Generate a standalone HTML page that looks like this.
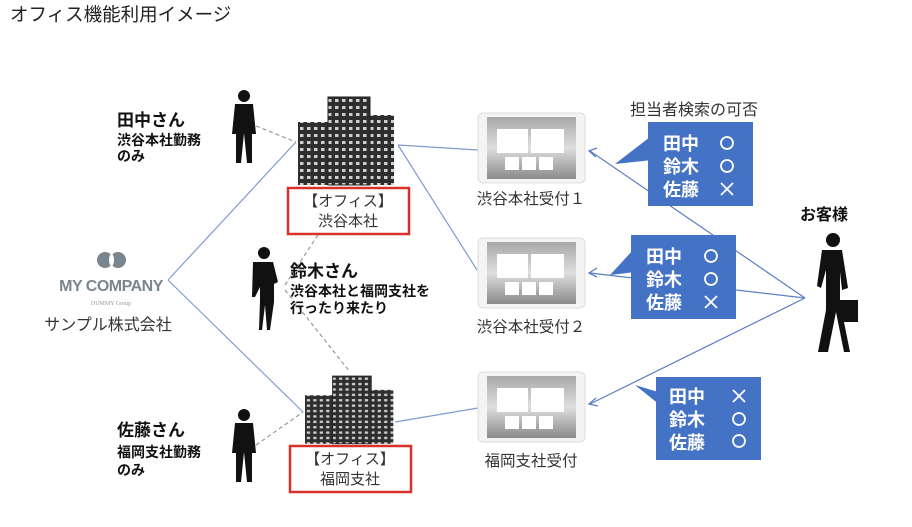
<!DOCTYPE html>
<html><head><meta charset="utf-8"><style>
body{margin:0;background:#fff;width:912px;height:527px;overflow:hidden;font-family:"Liberation Sans","Noto Sans CJK JP",sans-serif}
svg{position:absolute;left:0;top:0}
</style></head><body>
<svg width="912" height="527" viewBox="0 0 912 527" xmlns="http://www.w3.org/2000/svg" font-family="Liberation Sans, Noto Sans CJK JP, sans-serif">
<defs>
<pattern id="win" width="7" height="7" patternUnits="userSpaceOnUse"><rect width="7" height="7" fill="#2e2e2e"/><rect x="2" y="2" width="3.5" height="3" fill="#cfcfcf"/></pattern>
<linearGradient id="scr" x1="0" y1="0" x2="0" y2="1"><stop offset="0" stop-color="#a8a8a8"/><stop offset="0.5" stop-color="#dedede"/><stop offset="1" stop-color="#8a8a8a"/></linearGradient>
<g id="bld">
<rect x="30" y="0" width="42" height="88" fill="url(#win)"/>
<rect x="0" y="25" width="46" height="63" fill="url(#win)"/>
<rect x="70" y="18" width="26" height="70" fill="url(#win)"/>
<rect x="30" y="0" width="42" height="88" fill="none" stroke="#222"/>
</g>
<g id="tab">
<rect x="0" y="0" width="107" height="70" rx="5" fill="#f4f4f4" stroke="#ddd"/>
<rect x="9" y="4" width="89" height="62" fill="url(#scr)"/>
<rect x="19" y="16" width="31" height="24" fill="#fff"/><rect x="53" y="16" width="33" height="24" fill="#fff"/>
<rect x="27" y="44" width="14" height="13" fill="#fff"/><rect x="44" y="44" width="14" height="13" fill="#fff"/><rect x="61" y="44" width="14" height="13" fill="#fff"/>
</g>
<g id="man"><circle cx="12" cy="8" r="6" fill="#111"/><path d="M3,16 h18 l3,30 h-4 v29 h-5 l-3,-30 l-3,30 h-5 v-29 h-4 z" fill="#111"/></g>
</defs>

<text x="10" y="21" font-size="18.5" fill="#222">オフィス機能利用イメージ</text>

<g stroke="#7f9bd0" stroke-width="1.2" fill="none">
<path d="M168,280 L296,142"/><path d="M168,280 L303,412"/>
<path d="M398,145 L478,150"/><path d="M398,145 L477,270"/><path d="M395,422 L478,408"/>
</g>
<g stroke="#999" stroke-width="1.2" fill="none" stroke-dasharray="4,3">
<path d="M256,126 L296,142"/><path d="M318,235 L285,285"/><path d="M285,290 L350,372"/><path d="M256,445 L303,412"/>
</g>
<g stroke="#5b7fc4" stroke-width="1.2" fill="none">
<path d="M805,298 L590,151"/><path d="M805,298 L590,273"/><path d="M805,298 L590,404"/>
</g>
<g fill="none" stroke="#5b7fc4" stroke-width="1.3">
<path d="M597,148 L589,151 L596,157"/><path d="M597,268 L589,273 L597,277"/><path d="M596,398 L589,404 L598,406"/>
</g>

<use href="#bld" x="298" y="97"/>
<use href="#bld" transform="translate(305,376) scale(0.92,0.77)"/>
<rect x="288" y="188" width="121" height="46" fill="none" stroke="#d9302c" stroke-width="2.5"/>
<text x="348" y="206" font-size="15" text-anchor="middle" fill="#333">【オフィス】</text>
<text x="348" y="226" font-size="15" text-anchor="middle" fill="#333">渋谷本社</text>
<rect x="290" y="446" width="121" height="46" fill="none" stroke="#d9302c" stroke-width="2.5"/>
<text x="350" y="464" font-size="15" text-anchor="middle" fill="#333">【オフィス】</text>
<text x="350" y="484" font-size="15" text-anchor="middle" fill="#333">福岡支社</text>

<use href="#man" x="232" y="88"/>
<use href="#man" x="232" y="407"/>
<g fill="#111"><circle cx="264" cy="253" r="6"/><path d="M253,262 h20 l5,20 l-4,2 v18 l-4,28 h-3 l-2,-25 l-3,25 h-3 l1,-30 v-13 l-5,10 h-3 z"/></g>
<g font-weight="bold" fill="#111">
<text x="117" y="126" font-size="17">田中さん</text><text x="117" y="145" font-size="14">渋谷本社勤務</text><text x="117" y="161" font-size="14">のみ</text>
<text x="290" y="277" font-size="17">鈴木さん</text><text x="290" y="296" font-size="14">渋谷本社と福岡支社を</text><text x="290" y="313" font-size="14">行ったり来たり</text>
<text x="117" y="436" font-size="17">佐藤さん</text><text x="117" y="457" font-size="14">福岡支社勤務</text><text x="117" y="475" font-size="14">のみ</text>
<text x="800" y="220" font-size="16">お客様</text>
</g>

<circle cx="105" cy="260" r="8" fill="#7a8590"/><circle cx="118" cy="260" r="8" fill="#7a8590"/><ellipse cx="111.5" cy="260" rx="2.5" ry="6" fill="#fff"/>
<text x="111" y="291" font-size="16" font-weight="bold" text-anchor="middle" fill="#7a8590" letter-spacing="-0.5">MY COMPANY</text>
<text x="111" y="305" font-size="6" text-anchor="middle" fill="#999" font-family="Liberation Serif, serif">DUMMY Group</text>
<text x="108" y="330" font-size="16" text-anchor="middle" fill="#333">サンプル株式会社</text>

<use href="#tab" x="478" y="113"/><use href="#tab" x="478" y="238"/><use href="#tab" x="478" y="372"/>
<text x="531" y="204" font-size="15.5" text-anchor="middle" fill="#333">渋谷本社受付１</text>
<text x="531" y="332" font-size="15.5" text-anchor="middle" fill="#333">渋谷本社受付２</text>
<text x="531" y="466" font-size="15.5" text-anchor="middle" fill="#333">福岡支社受付</text>

<text x="630" y="115" font-size="16" fill="#333">担当者検索の可否</text>

<g fill="#4472c4">
<rect x="648" y="122" width="105" height="84"/><path d="M650,137 L615,164 L652,160 z"/>
<rect x="631" y="235" width="105" height="84"/><path d="M633,250 L610,275 L635,272 z"/>
<rect x="656" y="377" width="105" height="83"/><path d="M658,392 L635,385 L660,405 z"/>
</g>
<g fill="#fff" font-weight="bold" font-size="18">
<text x="663" y="150">田中</text><text x="663" y="173">鈴木</text><text x="663" y="196">佐藤</text>
<text x="646" y="263">田中</text><text x="646" y="286">鈴木</text><text x="646" y="309">佐藤</text>
<text x="669" y="403">田中</text><text x="669" y="426">鈴木</text><text x="669" y="449">佐藤</text>
</g>
<g fill="none" stroke="#fff" stroke-width="1.8">
<circle cx="727" cy="143" r="6"/><circle cx="727" cy="166" r="6"/><path d="M721,183 l12,12 M733,183 l-12,12"/>
<circle cx="711" cy="256" r="6"/><circle cx="711" cy="279" r="6"/><path d="M705,296 l12,12 M717,296 l-12,12"/>
<path d="M733,390 l12,12 M745,390 l-12,12"/><circle cx="739" cy="419" r="6"/><circle cx="739" cy="441" r="6"/>
</g>

<g fill="#111">
<circle cx="833" cy="240" r="7"/>
<path d="M822,250 h20 l6,38 l-6,2 l-2,-18 v30 l10,50 h-6 l-8,-40 l-8,40 h-10 l8,-42 v-40 l-5,18 l-4,-2 z"/>
<rect x="840" y="300" width="18" height="22"/>
</g>
</svg>
</body></html>
